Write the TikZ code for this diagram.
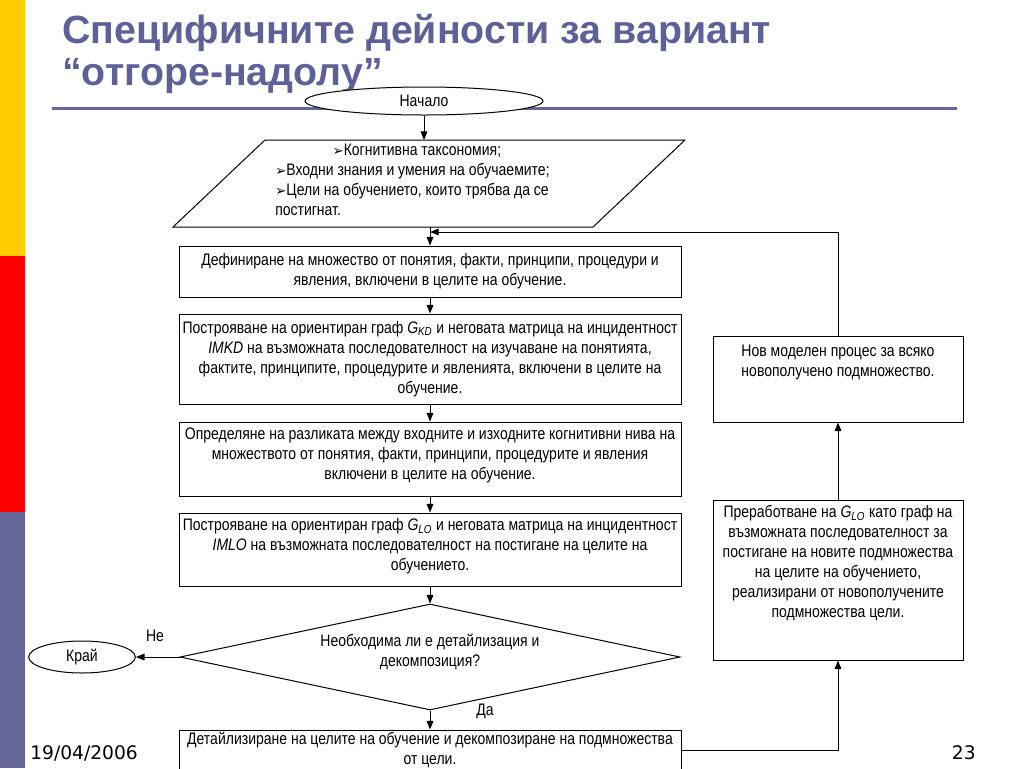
\documentclass[tikz,border=0pt]{standalone}
\usepackage{fontspec}
\setmainfont{Liberation Sans}[FakeStretch=0.84]
\newfontfamily\ttlfont{Liberation Sans}
\newfontfamily\dv{DejaVu Sans}
\usetikzlibrary{arrows.meta,shapes.geometric}
\definecolor{ttl}{RGB}{96,96,152}
\definecolor{barp}{RGB}{102,102,153}
\definecolor{bary}{RGB}{255,204,0}
\begin{document}
\begin{tikzpicture}[x=0.75pt,y=-0.75pt,
  every node/.style={font=\fontsize{12.5}{15}\selectfont},
  box/.style={draw, line width=0.75pt, fill=white, align=center, inner sep=0pt},
  txt/.style={align=center, inner sep=0pt},
  arr/.style={line width=0.75pt, -{Triangle[length=6.5pt,width=5pt]}},
  ln/.style={line width=0.75pt},
  ttlstyle/.style={anchor=base west, inner sep=0pt, text=ttl, font=\ttlfont\fontsize{29.5}{32}\selectfont\bfseries}]
\useasboundingbox (0,0) rectangle (1024,768);
\fill[bary] (0,0) rectangle (25,256);
\fill[red] (0,256) rectangle (25,512);
\fill[barp] (0,512) rectangle (25,768);
\node[ttlstyle] (t1) at (62,43) {Специфичните дейности за вариант};
\node[ttlstyle] (t2) at (62,85) {“отгоре-надолу”};
\draw[barp, line width=2.25pt] (52,108) -- (957,108);
\node[box, ellipse, minimum width=178.5pt, minimum height=21pt] (start) at (424,101) {Начало};
% input parallelogram
\coordinate (inN) at (430,140);
\coordinate (inS) at (430,227);
\draw[ln] (265,140) -- (685,140) -- (593,227) -- (173,227) -- cycle;
\node[anchor=north west, align=left, inner sep=0pt] (inp) at (275,144)
  {\hspace*{43pt}{\dv\fontsize{10}{15}\selectfont ➢}Когнитивна таксономия;\\
   {\dv\fontsize{10}{15}\selectfont ➢}Входни знания и умения на обучаемите;\\
   {\dv\fontsize{10}{15}\selectfont ➢}Цели на обучението, които трябва да се\\
   постигнат.};
\node[box, minimum width=376.5pt, minimum height=38.25pt] (b1) at (430,271.5)
  {Дефиниране на множество от понятия, факти, принципи, процедури и\\
   явления, включени в целите на обучение.};
\node[box, minimum width=376.5pt, minimum height=67.5pt] (b2) at (430,359)
  {Построяване на ориентиран граф \textit{G}\textsubscript{\textit{KD}} и неговата матрица на инцидентност\\
   \textit{IMKD} на възможната последователност на изучаване на понятията,\\
   фактите, принципите, процедурите и явленията, включени в целите на\\
   обучение.};
\node[box, minimum width=376.5pt, minimum height=55.5pt] (b3) at (430,459) {};
\node[txt] (b3t) at (430,455)
  {Определяне на разликата между входните и изходните когнитивни нива на\\
   множеството от понятия, факти, принципи, процедурите и явления\\
   включени в целите на обучение.};
\node[box, minimum width=376.5pt, minimum height=54.75pt] (b4) at (430,549.5) {};
\node[txt] (b4t) at (430,546.5)
  {Построяване на ориентиран граф \textit{G}\textsubscript{\textit{LO}} и неговата матрица на инцидентност\\
   \textit{IMLO} на възможната последователност на постигане на целите на\\
   обучението.};
\node[box, diamond, aspect=4.7, minimum width=375pt, minimum height=79.5pt] (dec) at (430,657) {};
\node[txt] (dect) at (430,652) {Необходима ли е детайлизация и\\ декомпозиция?};
\node[box, ellipse, minimum width=80pt, minimum height=24pt] (end) at (82,657) {Край};
\node[box, minimum width=376.5pt, minimum height=30pt] (det) at (430,750)
  {Детайлизиране на целите на обучение и декомпозиране на подмножества\\ от цели.};
\node[box] (rew) at (838,580)
  {\parbox[c][120pt][t]{187.5pt}{\centering\vspace*{4pt}%
   Преработване на \textit{G}\textsubscript{\textit{LO}} като граф на\\
   възможната последователност за\\
   постигане на новите подмножества\\
   на целите на обучението,\\
   реализирани от новополучените\\
   подмножества цели.}};
\node[box] (new) at (838,379)
  {\parbox[c][64.5pt][t]{187.5pt}{\centering\vspace*{7pt}%
   Нов моделен процес за всяко\\
   новополучено подмножество.}};
\coordinate (join) at (430,232);
% connectors
\draw[arr] (start.south) -- (start.south |- inN);
\draw[arr] (inS) -- (b1.north);
\draw[arr] (b1.south) -- (b2.north);
\draw[arr] (b2.south) -- (b3.north);
\draw[arr] (b3.south) -- (b4.north);
\draw[arr] (b4.south) -- (dec.north);
\draw[arr] (dec.west) -- (end.east);
\draw[arr] (dec.south) -- (det.north);
\draw[arr] (det.east) -| (rew.south);
\draw[arr] (rew.north) -- (new.south);
\draw[arr] (new.north) |- (join);
\node (ne) at (155,636) {Не};
\node (da) at (485,711) {Да};
\node[anchor=base west, inner sep=0pt, font=\dv\fontsize{14}{16}\selectfont] (date) at (30,759) {19/04/2006};
\node[anchor=base east, inner sep=0pt, font=\dv\fontsize{14}{16}\selectfont] (pg) at (976,759) {23};
\end{tikzpicture}
\end{document}
